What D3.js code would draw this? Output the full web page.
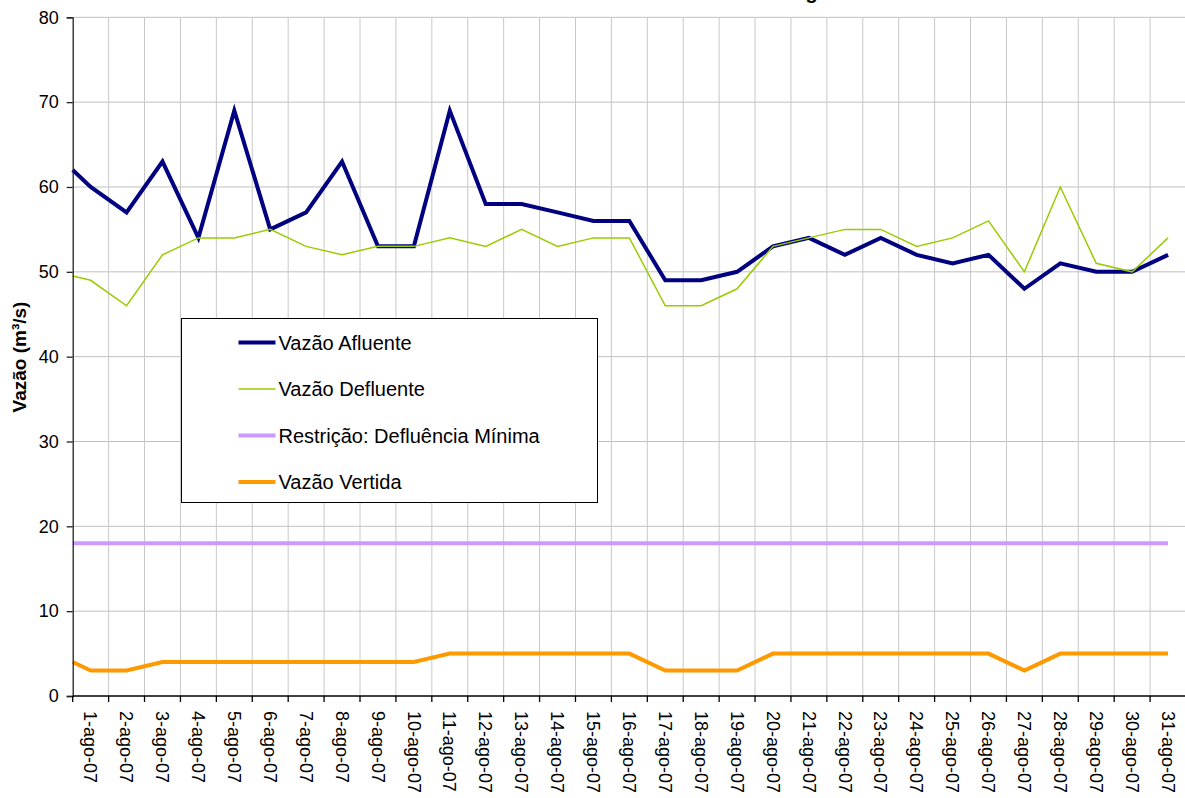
<!DOCTYPE html>
<html>
<head>
  <meta charset="UTF-8">
  <title>Vazões - agosto 2007</title>
  <style>
    body { margin: 0; background: #fff; }
    svg { display: block; font-family: Arial, "Liberation Sans", sans-serif; }
  </style>
</head>
<body>
<svg></svg>
<script src="https://d3js.org/d3.v7.min.js"></script>
<script>
    let width = 1185, height = 798;
    let margin = {left: 72.7, right: -1, top: 17.3, bottom: 102};

    // categorias (dias) - o primeiro valor de cada série fica na borda do eixo
    var dias = ["1-ago-07", "2-ago-07", "3-ago-07", "4-ago-07", "5-ago-07", "6-ago-07", "7-ago-07", "8-ago-07",
                "9-ago-07", "10-ago-07", "11-ago-07", "12-ago-07", "13-ago-07", "14-ago-07", "15-ago-07", "16-ago-07",
                "17-ago-07", "18-ago-07", "19-ago-07", "20-ago-07", "21-ago-07", "22-ago-07", "23-ago-07", "24-ago-07",
                "25-ago-07", "26-ago-07", "27-ago-07", "28-ago-07", "29-ago-07", "30-ago-07", "31-ago-07"];

    var afluente  = [62, 60, 57, 63, 54, 69, 55, 57, 63, 53, 53, 69, 58, 58, 57, 56, 56, 49, 49, 50, 53, 54, 52, 54, 52, 51, 52, 48, 51, 50, 50, 52];
    var defluente = [49.5, 49, 46, 52, 54, 54, 55, 53, 52, 53, 53, 54, 53, 55, 53, 54, 54, 46, 46, 48, 53, 54, 55, 55, 53, 54, 56, 50, 60, 51, 50, 54];
    var restricao = [18, 18, 18, 18, 18, 18, 18, 18, 18, 18, 18, 18, 18, 18, 18, 18, 18, 18, 18, 18, 18, 18, 18, 18, 18, 18, 18, 18, 18, 18, 18, 18];
    var vertida   = [4, 3, 3, 4, 4, 4, 4, 4, 4, 4, 4, 5, 5, 5, 5, 5, 5, 3, 3, 3, 5, 5, 5, 5, 5, 5, 5, 3, 5, 5, 5, 5];

    var yTicks = [0, 10, 20, 30, 40, 50, 60, 70, 80];

    var series = [
        {name: "Vazão Afluente", values: afluente, color: "#000080", w: 4},
        {name: "Vazão Defluente", values: defluente, color: "#99CC00", w: 1.5},
        {name: "Restrição: Defluência Mínima", values: restricao, color: "#CC99FF", w: 4},
        {name: "Vazão Vertida", values: vertida, color: "#FF9900", w: 4}
    ];

    let svg = d3.select("svg").attr("width", width).attr("height", height);

    var x = d3.scaleBand().domain(dias).range([margin.left, width - margin.right]).padding(0);
    var y = d3.scaleLinear().domain([0, 80]).range([height - margin.bottom, margin.top]);

    // posição de cada ponto: índice 0 na borda, os demais no centro do dia
    function px(i) {
        return i == 0 ? x.range()[0] : x(dias[i - 1]) + x.bandwidth() / 2;
    }

    // title (cortado no topo)
    svg.append("text")
        .attr("x", 791).attr("y", -1)
        .style("font-weight", "bold").style("font-size", "20px")
        .text("Agosto");

    // grid
    svg.append("g").selectAll("line.h")
        .data(yTicks.filter(d => d > 0))
        .enter().append("line")
        .attr("x1", margin.left).attr("x2", width)
        .attr("y1", d => y(d)).attr("y2", d => y(d))
        .style("stroke", "#c0c0c0").style("stroke-width", 1);

    svg.append("g").selectAll("line.v")
        .data(dias)
        .enter().append("line")
        .attr("x1", d => x(d) + x.bandwidth()).attr("x2", d => x(d) + x.bandwidth())
        .attr("y1", y(80)).attr("y2", y(0))
        .style("stroke", "#c8c8c8").style("stroke-width", 1);

    // lines
    var line = d3.line()
        .x((d, i) => px(i))
        .y(d => y(d));

    svg.append("g").selectAll("path")
        .data(series)
        .enter().append("path")
        .attr("d", d => line(d.values))
        .style("fill", "none")
        .style("stroke", d => d.color)
        .style("stroke-width", d => d.w)
        .style("stroke-linejoin", "miter");

    // y axis
    var yAxis = svg.append("g")
        .attr("transform", "translate(" + margin.left + ",0)")
        .call(d3.axisLeft(y).tickValues(yTicks).tickSize(6).tickPadding(8));
    yAxis.selectAll("text").style("font-size", "18px").style("fill", "#000")
        .style("font-family", "Arial, 'Liberation Sans', sans-serif");
    yAxis.selectAll("line, path").style("stroke", "#222").style("stroke-width", 1.3);

    // x axis
    var xAxis = svg.append("g")
        .attr("transform", "translate(0," + y(0) + ")");
    xAxis.append("line")
        .attr("x1", margin.left).attr("x2", width)
        .style("stroke", "#000").style("stroke-width", 1.3);
    xAxis.selectAll("line.tick")
        .data([null].concat(dias))
        .enter().append("line")
        .attr("x1", (d, i) => i == 0 ? margin.left : x(d) + x.bandwidth())
        .attr("x2", (d, i) => i == 0 ? margin.left : x(d) + x.bandwidth())
        .attr("y1", 0).attr("y2", 6)
        .style("stroke", "#000").style("stroke-width", 1.3);
    xAxis.selectAll("text")
        .data(dias)
        .enter().append("text")
        .attr("transform", d => "translate(" + (x(d) + x.bandwidth() / 2) + ",15) rotate(90)")
        .attr("dy", "0.35em")
        .style("font-size", "18px")
        .text(d => d);

    // y title
    svg.append("text")
        .attr("transform", "translate(26,357) rotate(-90)")
        .attr("text-anchor", "middle")
        .style("font-weight", "bold").style("font-size", "19px")
        .text("Vazão (m³/s)");

    // legend
    var lg = svg.append("g").attr("transform", "translate(181.5,318.5)");
    lg.append("rect")
        .attr("width", 416).attr("height", 184)
        .style("fill", "#fff").style("stroke", "#000").style("stroke-width", 1);
    var entry = lg.selectAll("g.entry")
        .data(series)
        .enter().append("g")
        .attr("class", "entry")
        .attr("transform", (d, i) => "translate(0," + (24 + i * 46.5) + ")");
    entry.append("line")
        .attr("x1", 57).attr("x2", 94)
        .style("stroke", d => d.color)
        .style("stroke-width", d => d.w);
    entry.append("text")
        .attr("x", 97).attr("dy", "0.35em")
        .style("font-size", "20px")
        .text(d => d.name);
</script>
</body>
</html>
